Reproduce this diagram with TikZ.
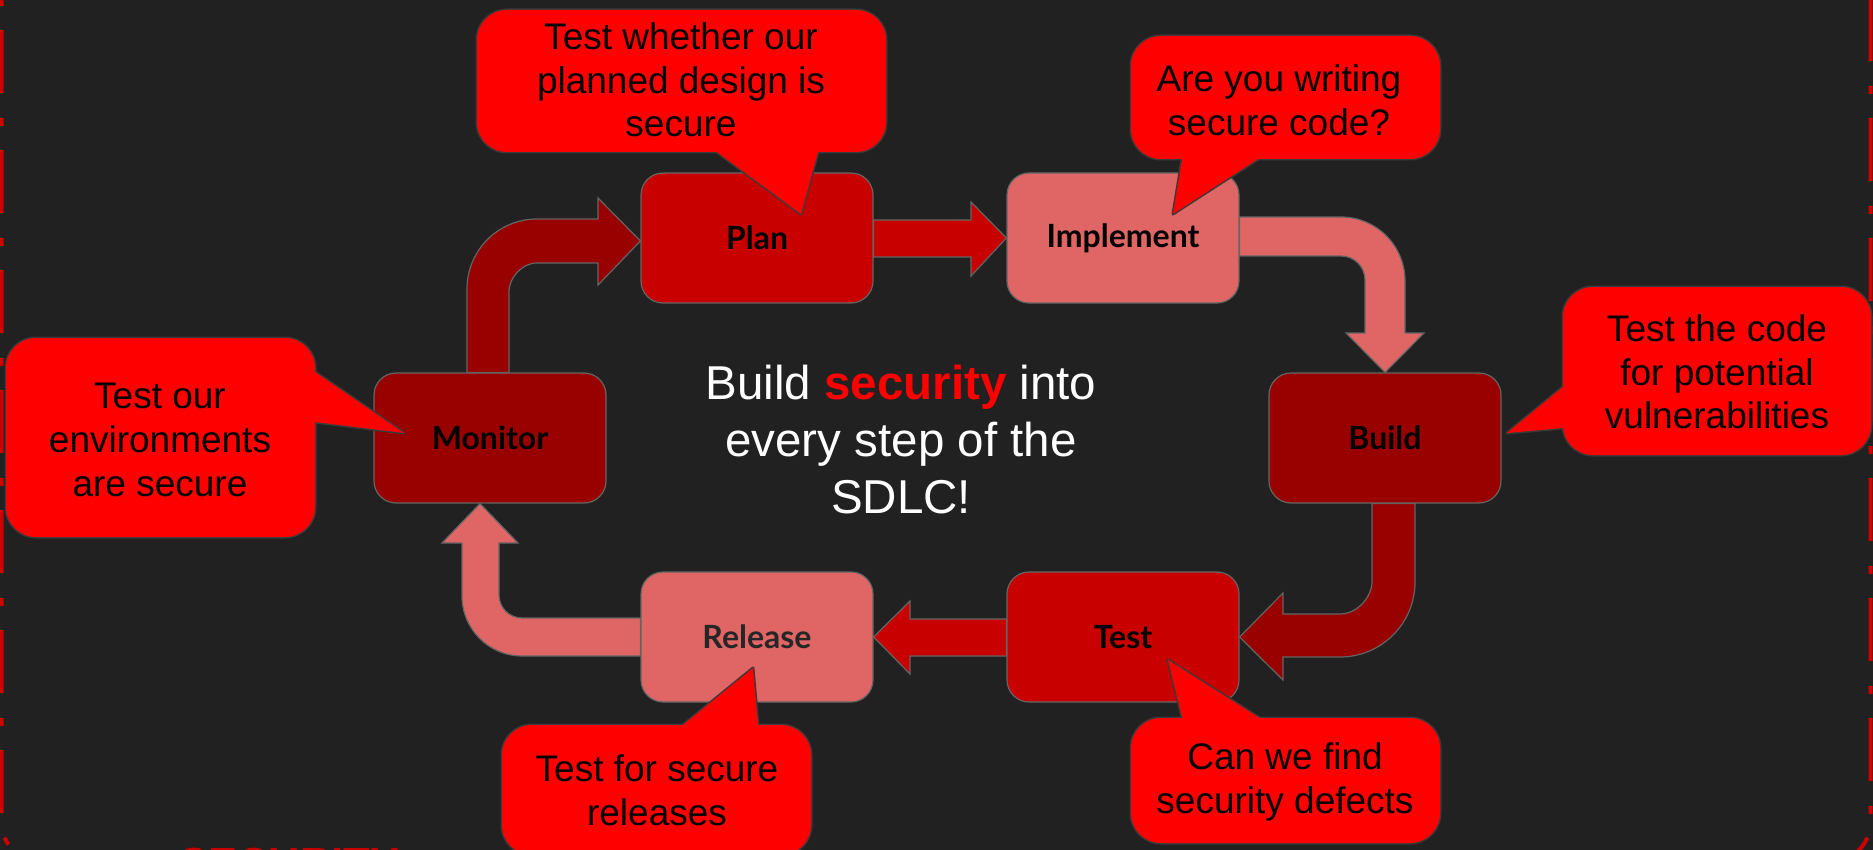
\documentclass[tikz,border=0pt]{standalone}
\usepackage{fontspec}
\setmainfont{Liberation Sans}
\newfontfamily\boxfont{Lato}
\usetikzlibrary{calc}
\definecolor{bg}{HTML}{212121}
\definecolor{dred}{HTML}{990000}
\definecolor{mred}{HTML}{C80000}
\definecolor{pred}{HTML}{E06666}
\definecolor{cred}{HTML}{FF0000}
\definecolor{edgegray}{HTML}{646464}
\definecolor{cedge}{HTML}{3A3A3A}
\definecolor{framered}{HTML}{CC0000}
\definecolor{reltext}{HTML}{262626}

\newcommand{\mycallout}[7]{%
  \draw[cbor, rounded corners=30pt] (#1,#2) rectangle (#3,#4);
  \draw[cbor, line join=round] #6 -- #5 -- #7;
  \fill[cred, rounded corners=30pt] (#1,#2) rectangle (#3,#4);
  \fill[cred] #6 -- #5 -- #7 -- cycle;
}

\begin{document}
\begin{tikzpicture}[x=1pt,y=-1pt,
  stage/.style={draw=edgegray, line width=1.2pt, rounded corners=22pt,
    minimum width=232pt, minimum height=130pt, inner sep=0pt,
    font=\boxfont\bfseries\fontsize{32}{37}\selectfont, text=black},
  blk/.style={draw=edgegray, line width=1.2pt, line join=miter},
  ctext/.style={font=\fontsize{37}{43.6}\selectfont, align=center, text=black},
  cbor/.style={draw=cedge, line width=3pt},
  framestyle/.style={draw=framered, line width=4pt, dash pattern=on 63pt off 25pt on 8pt off 24pt, rounded corners=40pt},
]
\useasboundingbox (0,0) rectangle (1873,850);
\fill[bg] (0,0) rectangle (1873,850);

% dashed frame
\draw[framestyle] (1.5,-90) -- (1.5,862) -- (900,862);
\draw[framestyle] (1870.5,-122) -- (1870.5,862) -- (900,862);

% cut-off red text at the bottom
\node[anchor=base west, font=\bfseries\fontsize{43.5}{50}\selectfont, text=framered, inner sep=0pt] (sec) at (179,878) {SECURITY};

% stages
\node[stage, fill=mred] (plan) at (757,238) {Plan};
\node[stage, fill=pred] (impl) at (1123,238) {Implement};
\node[stage, fill=dred] (build) at (1385,438) {Build};
\node[stage, fill=mred] (test) at (1123,637) {Test};
\node[stage, fill=pred, text=reltext] (release) at (757,637) {Release};
\node[stage, fill=dred] (monitor) at (490,438) {Monitor};

% block arrows
% Plan -> Implement
\draw[blk, fill=mred] ($(plan.east)+(0,-18)$) -- (971,220) -- (971,202) -- (impl.west)
  -- (971,276) -- (971,257) -- ($(plan.east)+(0,19)$) -- cycle;
% Implement -> Build
\draw[blk, fill=pred] ($(impl.east)+(0,-21)$) -- (1341,217)
  .. controls (1376.3,217) and (1405,245.7) .. (1405,281) -- (1405,333) -- (1424,333)
  -- (build.north) -- (1346,333) -- (1365,333) -- (1365,280)
  .. controls (1365,266.7) and (1354.3,256) .. (1341,256) -- ($(impl.east)+(0,18)$) -- cycle;
% Build -> Test
\draw[blk, fill=dred] ($(build.south)+(30,0)$) -- (1415,582)
  .. controls (1415,623.4) and (1381.4,657) .. (1340,657) -- (1283,657) -- (1283,680)
  -- (test.east) -- (1283,593) -- (1283,614) -- (1340,614)
  .. controls (1357.7,614) and (1372,596.3) .. (1372,582) -- ($(build.south)+(-13,0)$) -- cycle;
% Test -> Release
\draw[blk, fill=mred] ($(test.west)+(0,-18)$) -- (910,619) -- (910,601) -- (release.east)
  -- (910,674) -- (910,656) -- ($(test.west)+(0,19)$) -- cycle;
% Release -> Monitor
\draw[blk, fill=pred] ($(release.west)+(0,19)$) -- (522,656)
  .. controls (488.9,656) and (462,629.1) .. (462,596) -- (462,543) -- (442,543)
  -- ($(monitor.south)+(-10,0)$) -- (518,543) -- (499,543) -- (499,595)
  .. controls (499,607.7) and (509.3,618) .. (522,618) -- ($(release.west)+(0,-19)$) -- cycle;
% Monitor -> Plan
\draw[blk, fill=dred] ($(monitor.north)+(-23,0)$) -- (467,289)
  .. controls (467,250.3) and (498.3,219) .. (537,219) -- (598,219) -- (598,198)
  -- ($(plan.west)+(0,3)$) -- (598,285) -- (598,263) -- (537,263)
  .. controls (521.5,263) and (509,278.5) .. (509,291) -- ($(monitor.north)+(19,0)$) -- cycle;

% centre message
\node[font=\fontsize{47.5}{57}\selectfont, text=white, align=center] (msg) at (901,440)
  {Build \textcolor{cred}{\bfseries security} into\\every step of the\\SDLC!};

% callouts
\mycallout{477}{10}{886}{152}{(801,214)}{(700,139.6)}{(821.4,139.6)}
\node[ctext] (cplan) at (681,80) {Test whether our\\planned design is\\secure};

\mycallout{1131}{36}{1440}{159}{(1173,214)}{(1184.3,145.3)}{(1279.3,145.3)}
\node[ctext] (cimpl) at (1279,100) {Are you writing\\secure code?};

\mycallout{1563}{287}{1871}{455}{(1507,433)}{(1577,375.5)}{(1577,426.75)}
\node[ctext] (cbuild) at (1717,372) {Test the code\\for potential\\vulnerabilities};

\mycallout{1131}{718}{1440}{843}{(1168,660)}{(1185.5,731.25)}{(1280.5,731.25)}
\node[ctext] (ctest) at (1285,782) {Can we find\\security defects};

\mycallout{502}{725}{811}{855}{(753,668)}{(665.5,739.25)}{(759.25,739.25)}
\node[ctext] (crel) at (657,790) {Test for secure\\releases};

\mycallout{6}{338}{315}{537}{(404,433)}{(301.65,362.85)}{(301.65,420.35)}
\node[ctext] (cmon) at (160,440) {Test our\\environments\\are secure};
\end{tikzpicture}
\end{document}
